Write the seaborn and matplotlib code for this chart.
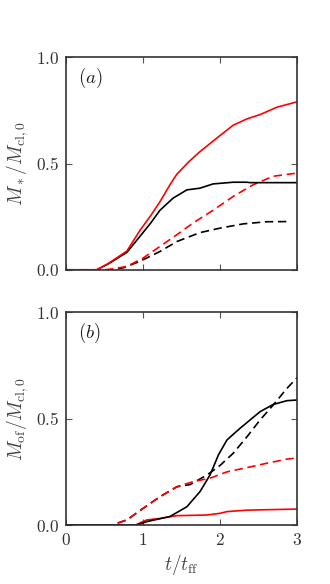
import numpy as np
import pandas as pd
import matplotlib
matplotlib.use("Agg")
import matplotlib.pyplot as plt
import seaborn as sns

sns.set_theme(style="ticks")
plt.rcParams['mathtext.fontset'] = 'cm'
plt.rcParams['font.family'] = ['DejaVu Serif']

# ---- panel (a): stellar mass ----
a_red_solid_t = [0, 0.4, 0.55, 0.79, 0.96, 1.1, 1.22, 1.35, 1.44, 1.6, 1.74, 1.96, 2.17, 2.35, 2.52, 2.74, 3.0]
a_red_solid_y = [0, 0, 0.03, 0.088, 0.185, 0.255, 0.32, 0.40, 0.45, 0.51, 0.556, 0.62, 0.68, 0.71, 0.73, 0.765, 0.79]

a_blk_solid_t = [0, 0.4, 0.55, 0.79, 0.96, 1.1, 1.22, 1.39, 1.57, 1.74, 1.91, 2.17, 2.35, 2.39, 2.6, 3.0]
a_blk_solid_y = [0, 0, 0.028, 0.082, 0.157, 0.22, 0.28, 0.337, 0.376, 0.384, 0.404, 0.412, 0.412, 0.41, 0.41, 0.41]

a_red_dash_t = [0, 0.5, 0.6, 0.79, 1.0, 1.22, 1.44, 1.65, 1.91, 2.17, 2.43, 2.69, 3.0]
a_red_dash_y = [0, 0, 0.004, 0.016, 0.055, 0.11, 0.165, 0.22, 0.28, 0.345, 0.40, 0.44, 0.455]

a_blk_dash_t = [0, 0.6, 0.75, 0.96, 1.22, 1.44, 1.74, 2.0, 2.3, 2.6, 2.9]
a_blk_dash_y = [0, 0, 0.01, 0.04, 0.086, 0.133, 0.175, 0.196, 0.216, 0.226, 0.227]

# ---- panel (b): outflow mass ----
b_red_solid_t = [0, 0.9, 1.05, 1.22, 1.44, 1.83, 2.0, 2.09, 2.35, 3.0]
b_red_solid_y = [0, 0, 0.024, 0.031, 0.044, 0.047, 0.055, 0.063, 0.07, 0.075]

b_blk_solid_t = [0, 0.92, 1.05, 1.35, 1.57, 1.74, 1.87, 1.98, 2.09, 2.26, 2.39, 2.52, 2.69, 2.87, 3.0]
b_blk_solid_y = [0, 0, 0.016, 0.04, 0.086, 0.157, 0.235, 0.33, 0.40, 0.455, 0.494, 0.533, 0.567, 0.585, 0.588]

b_red_dash_t = [0, 0.6, 0.79, 1.0, 1.22, 1.44, 1.65, 1.87, 2.09, 2.35, 2.6, 2.87, 3.0]
b_red_dash_y = [0, 0, 0.024, 0.078, 0.133, 0.18, 0.204, 0.22, 0.25, 0.27, 0.29, 0.31, 0.315]

b_blk_dash_t = [0, 0.6, 0.79, 1.0, 1.22, 1.44, 1.61, 1.83, 2.0, 2.17, 2.35, 2.52, 2.69, 2.87, 3.0]
b_blk_dash_y = [0, 0, 0.024, 0.078, 0.133, 0.18, 0.19, 0.235, 0.28, 0.337, 0.415, 0.494, 0.564, 0.643, 0.693]

fig = plt.figure(figsize=(3.3, 5.84), dpi=100)
ax1 = fig.add_axes([0.2, 0.538, 0.7, 0.364])
ax2 = fig.add_axes([0.2, 0.101, 0.7, 0.364])

lw = 1.2
dash = (0, (5, 2.8))

def draw(ax, t, y, color, ls):
    df = pd.DataFrame({"t": t, "y": y})
    sns.lineplot(data=df, x="t", y="y", ax=ax, color=color, linewidth=lw,
                 linestyle=ls, sort=False)

draw(ax1, a_blk_dash_t, a_blk_dash_y, "black", dash)
draw(ax1, a_red_dash_t, a_red_dash_y, "red", dash)
draw(ax1, a_blk_solid_t, a_blk_solid_y, "black", "-")
draw(ax1, a_red_solid_t, a_red_solid_y, "red", "-")

draw(ax2, b_blk_dash_t, b_blk_dash_y, "black", dash)
draw(ax2, b_red_dash_t, b_red_dash_y, "red", dash)
draw(ax2, b_red_solid_t, b_red_solid_y, "red", "-")
draw(ax2, b_blk_solid_t, b_blk_solid_y, "black", "-")

for ax, lab, ylab in [(ax1, r"$(a)$", r"$M_*/M_{\rm cl,0}$"),
                      (ax2, r"$(b)$", r"$M_{\rm of}/M_{\rm cl,0}$")]:
    ax.set_xlim(0, 3)
    ax.set_ylim(0, 1)
    ax.set_xticks([0, 1, 2, 3])
    ax.set_yticks([0, 0.5, 1.0])
    ax.set_yticklabels([r"$0.0$", r"$0.5$", r"$1.0$"])
    ax.tick_params(direction="in", top=True, right=True, length=4,
                   width=0.8, color="#555555", labelsize=12.5, labelcolor="#333333",
                   pad=5)
    for sp in ax.spines.values():
        sp.set_linewidth(1.2)
        sp.set_color("#333333")
    ax.set_ylabel(ylab, fontsize=14, color="#444444", labelpad=4)
    ax.text(0.05, 0.88, lab, transform=ax.transAxes, fontsize=13.5, color="#222222")

ax1.set_xlabel("")
ax1.set_xticklabels([])
ax2.set_xticklabels([r"$0$", r"$1$", r"$2$", r"$3$"])
ax2.set_xlabel(r"$t/t_{\rm ff}$", fontsize=14, color="#444444", labelpad=2)

fig.savefig("out.png", dpi=100)
